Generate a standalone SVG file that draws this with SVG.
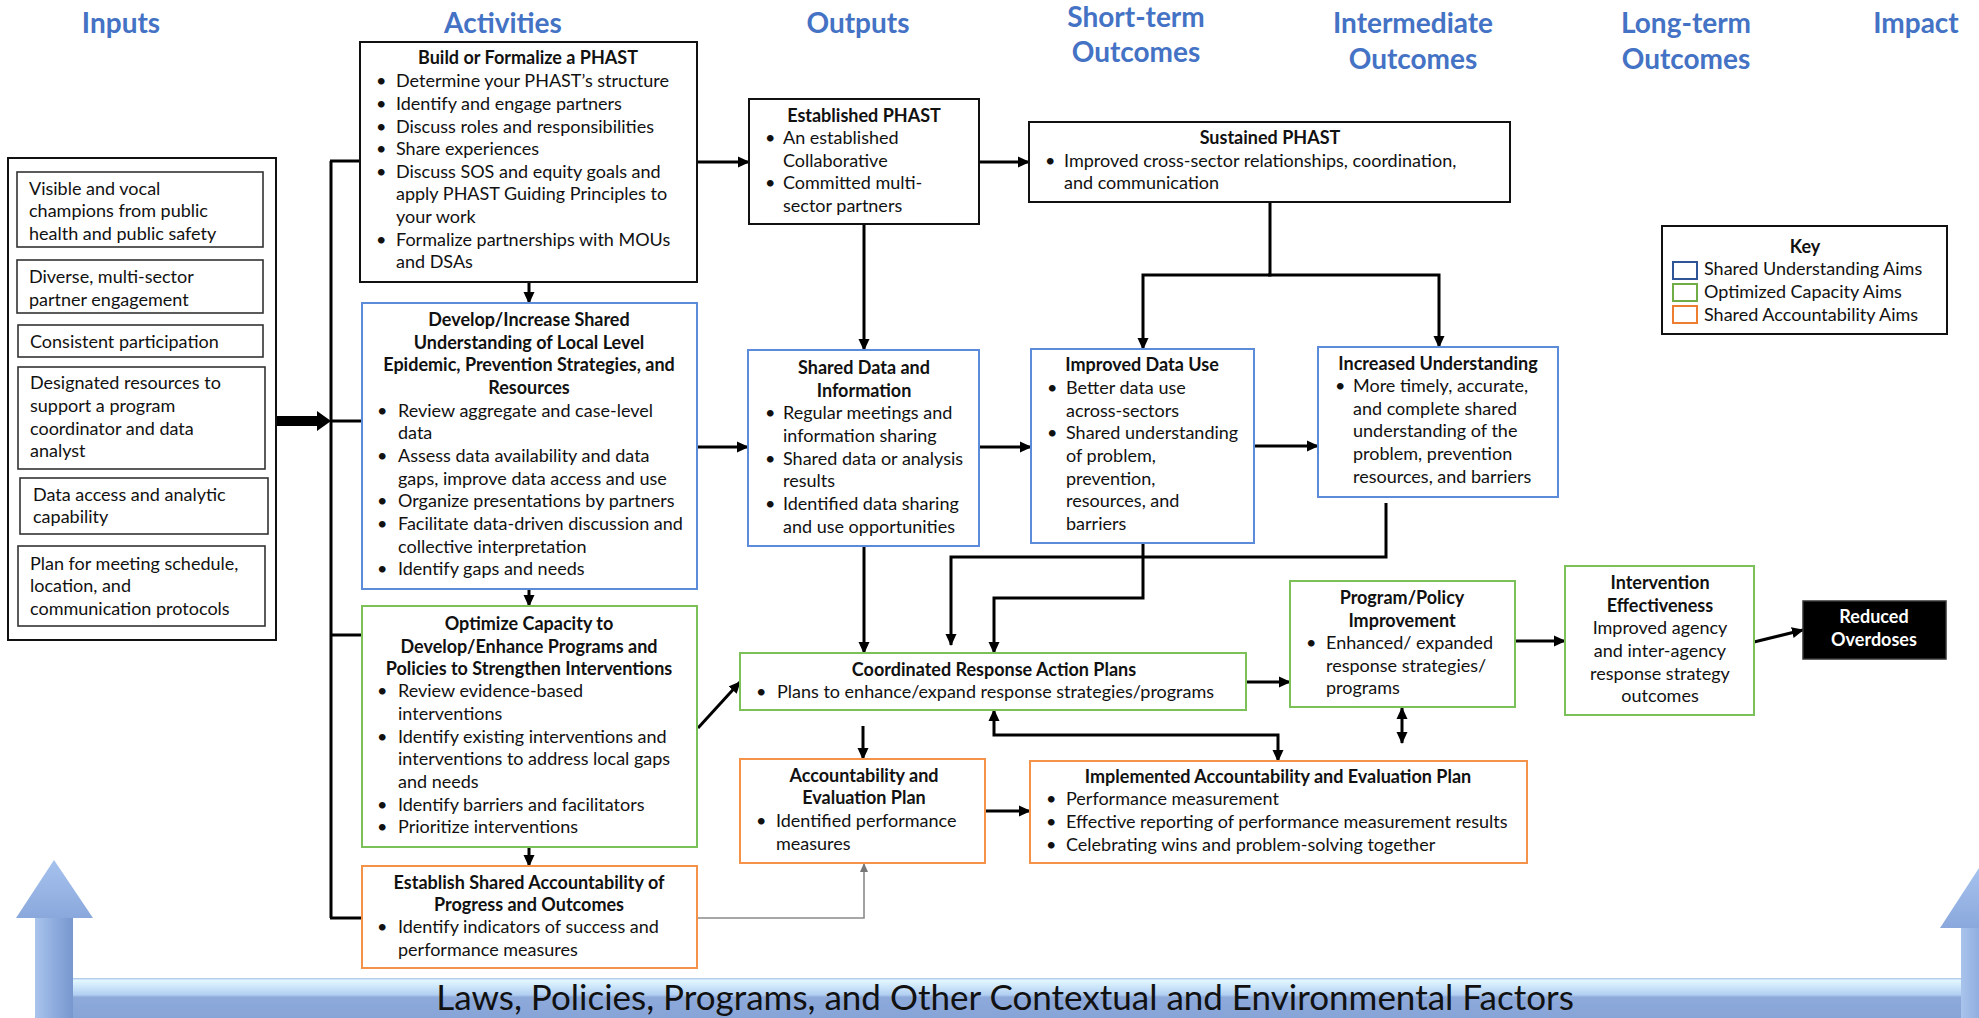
<svg xmlns="http://www.w3.org/2000/svg" width="1979" height="1018" viewBox="0 0 1979 1018">
<style>
.box{fill:#fff;stroke-width:2}
.k{stroke:#111}
.kin{stroke:#333;stroke-width:1.6}
.b{stroke:#5b8bd9}
.g{stroke:#7cc05a}
.o{stroke:#f4924a}
text{font-family:Lato,"Liberation Sans",sans-serif;font-size:18px;fill:#111}
.h{font-weight:bold;text-anchor:middle}
.m{text-anchor:middle}
.ct{font-family:Lato,"Liberation Sans",sans-serif;font-size:28px;font-weight:bold;fill:#4472c4;text-anchor:middle}
.c{stroke:#000;stroke-width:3;fill:none}
.cg{stroke:#8a8a8a;stroke-width:1.6;fill:none}
</style>
<defs>
<marker id="ah" viewBox="0 0 12 12" refX="11" refY="6" markerWidth="12" markerHeight="12" markerUnits="userSpaceOnUse" orient="auto-start-reverse">
<path d="M0,0.5 L12,6 L0,11.5 z" fill="#000"/>
</marker>
<marker id="ahg" viewBox="0 0 10 10" refX="9" refY="5" markerWidth="9" markerHeight="9" markerUnits="userSpaceOnUse" orient="auto">
<path d="M0,0.5 L10,5 L0,9.5 z" fill="#777"/>
</marker>
<linearGradient id="barG" x1="0" y1="0" x2="0" y2="1">
<stop offset="0" stop-color="#a8c2e6"/>
<stop offset="0.06" stop-color="#e2f8ff"/>
<stop offset="0.42" stop-color="#b2cff2"/>
<stop offset="0.48" stop-color="#8eaadb"/>
<stop offset="1" stop-color="#87a4d8"/>
</linearGradient>
<linearGradient id="shG" x1="0" y1="0" x2="1" y2="0">
<stop offset="0" stop-color="#a9c4ec"/>
<stop offset="0.5" stop-color="#8eacde"/>
<stop offset="1" stop-color="#7897cd"/>
</linearGradient>
<linearGradient id="hdG" x1="0" y1="0" x2="0" y2="1">
<stop offset="0" stop-color="#a6c2ee"/>
<stop offset="1" stop-color="#8aa8dc"/>
</linearGradient>
</defs>

<!-- Banner -->
<g id="banner">
<rect x="35" y="978" width="1970" height="40" fill="url(#barG)"/>
<rect x="35" y="916" width="38" height="102" fill="url(#shG)"/>
<polygon points="16,918 54,860 93,918" fill="url(#hdG)"/>
<rect x="1961" y="926" width="38" height="92" fill="url(#shG)"/>
<polygon points="1940,928 1979,868 2018,928" fill="url(#hdG)"/>
<text x="1005" y="1010" class="m" style="font-size:35px;fill:#111">Laws, Policies, Programs, and Other Contextual and Environmental Factors</text>
</g>

<!-- Column titles -->
<g id="titles">
<text class="ct" x="121" y="33">Inputs</text>
<text class="ct" x="503" y="33">Activities</text>
<text class="ct" x="858" y="33">Outputs</text>
<text class="ct" x="1136" y="27">Short-term</text>
<text class="ct" x="1136" y="62">Outcomes</text>
<text class="ct" x="1413" y="33">Intermediate</text>
<text class="ct" x="1413" y="69">Outcomes</text>
<text class="ct" x="1686" y="33">Long-term</text>
<text class="ct" x="1686" y="69">Outcomes</text>
<text class="ct" x="1916" y="33">Impact</text>
</g>

<!-- Connectors -->
<g id="connectors">
<path class="c" d="M331,161 V918"/>
<path class="c" d="M330,161 H360"/>
<path class="c" d="M331,421 H362"/>
<path class="c" d="M331,635 H362"/>
<path class="c" d="M330,918 H362"/>
<polygon points="268,416 317,416 317,411 331,421 317,431 317,426 268,426" fill="#000"/>
<path class="c" d="M697,162 H749" marker-end="url(#ah)"/>
<path class="c" d="M529,282 V303" marker-end="url(#ah)"/>
<path class="c" d="M529,589 V606" marker-end="url(#ah)"/>
<path class="c" d="M529,847 V866" marker-end="url(#ah)"/>
<path class="c" d="M979,162 H1029" marker-end="url(#ah)"/>
<path class="c" d="M864,224 V350" marker-end="url(#ah)"/>
<path class="c" d="M1270,202 V275 H1143 V349" marker-end="url(#ah)"/>
<path class="c" d="M1268,275 H1439 V347" marker-end="url(#ah)"/>
<path class="c" d="M697,447 H748" marker-end="url(#ah)"/>
<path class="c" d="M979,447 H1031" marker-end="url(#ah)"/>
<path class="c" d="M1254,446 H1318" marker-end="url(#ah)"/>
<path class="c" d="M1386,503 V557 H951 V645" marker-end="url(#ah)"/>
<path class="c" d="M1143,543 V598 H994 V653" marker-end="url(#ah)"/>
<path class="c" d="M864,546 V653" marker-end="url(#ah)"/>
<path class="c" d="M698,728 L740,682" marker-end="url(#ah)"/>
<path class="c" d="M1246,682 H1290" marker-end="url(#ah)"/>
<path class="c" d="M863,726 V759" marker-end="url(#ah)"/>
<path class="c" d="M994,710 V735 H1278 V761" marker-start="url(#ah)" marker-end="url(#ah)"/>
<path class="c" d="M1402,708 V743" marker-start="url(#ah)" marker-end="url(#ah)"/>
<path class="c" d="M985,811 H1030" marker-end="url(#ah)"/>
<path class="c" d="M1515,641 H1565" marker-end="url(#ah)"/>
<path class="c" d="M1754,642 L1803,630" marker-end="url(#ah)"/>
<path class="cg" d="M697,918 H864 V864" marker-end="url(#ahg)"/>
</g>

<!-- Inputs -->
<g id="inputs">
<rect class="box k" x="8" y="158" width="268" height="482"/>
<rect class="box kin" x="17" y="172" width="246" height="75"/>
<text><tspan x="29" y="195">Visible and vocal</tspan><tspan x="29" y="217">champions from public</tspan><tspan x="29" y="240">health and public safety</tspan></text>
<rect class="box kin" x="17" y="260" width="246" height="53"/>
<text><tspan x="29" y="283">Diverse, multi-sector</tspan><tspan x="29" y="306">partner engagement</tspan></text>
<rect class="box kin" x="18" y="325" width="245" height="32"/>
<text><tspan x="30" y="348">Consistent participation</tspan></text>
<rect class="box kin" x="18" y="367" width="247" height="102"/>
<text><tspan x="30" y="389">Designated resources to</tspan><tspan x="30" y="412">support a program</tspan><tspan x="30" y="435">coordinator and data</tspan><tspan x="30" y="457">analyst</tspan></text>
<rect class="box kin" x="20" y="478" width="248" height="56"/>
<text><tspan x="33" y="501">Data access and analytic</tspan><tspan x="33" y="523">capability</tspan></text>
<rect class="box kin" x="18" y="546" width="247" height="80"/>
<text><tspan x="30" y="570">Plan for meeting schedule,</tspan><tspan x="30" y="592">location, and</tspan><tspan x="30" y="615">communication protocols</tspan></text>
</g>

<g id="build">
<rect class="box k" x="360" y="42" width="337" height="240"/>
<text class="h" x="528" y="64">Build or Formalize a PHAST</text>
<text><tspan x="376" y="87">•</tspan><tspan x="396" y="87">Determine your PHAST’s structure</tspan>
<tspan x="376" y="110">•</tspan><tspan x="396" y="110">Identify and engage partners</tspan>
<tspan x="376" y="133">•</tspan><tspan x="396" y="133">Discuss roles and responsibilities</tspan>
<tspan x="376" y="155">•</tspan><tspan x="396" y="155">Share experiences</tspan>
<tspan x="376" y="178">•</tspan><tspan x="396" y="178">Discuss SOS and equity goals and</tspan>
<tspan x="396" y="200">apply PHAST Guiding Principles to</tspan>
<tspan x="396" y="223">your work</tspan>
<tspan x="376" y="246">•</tspan><tspan x="396" y="246">Formalize partnerships with MOUs</tspan>
<tspan x="396" y="268">and DSAs</tspan></text>
</g>

<g id="develop">
<rect class="box b" x="362" y="303" width="335" height="286"/>
<text class="h"><tspan x="529" y="326">Develop/Increase Shared</tspan><tspan x="529" y="349">Understanding of Local Level</tspan><tspan x="529" y="371">Epidemic, Prevention Strategies, and</tspan><tspan x="529" y="394">Resources</tspan></text>
<text><tspan x="377" y="417">•</tspan><tspan x="398" y="417">Review aggregate and case-level</tspan>
<tspan x="398" y="439">data</tspan>
<tspan x="377" y="462">•</tspan><tspan x="398" y="462">Assess data availability and data</tspan>
<tspan x="398" y="485">gaps, improve data access and use</tspan>
<tspan x="377" y="507">•</tspan><tspan x="398" y="507">Organize presentations by partners</tspan>
<tspan x="377" y="530">•</tspan><tspan x="398" y="530">Facilitate data-driven discussion and</tspan>
<tspan x="398" y="553">collective interpretation</tspan>
<tspan x="377" y="575">•</tspan><tspan x="398" y="575">Identify gaps and needs</tspan></text>
</g>

<g id="optimize">
<rect class="box g" x="362" y="606" width="335" height="241"/>
<text class="h"><tspan x="529" y="630">Optimize Capacity to</tspan><tspan x="529" y="653">Develop/Enhance Programs and</tspan><tspan x="529" y="675">Policies to Strengthen Interventions</tspan></text>
<text><tspan x="377" y="697">•</tspan><tspan x="398" y="697">Review evidence-based</tspan>
<tspan x="398" y="720">interventions</tspan>
<tspan x="377" y="743">•</tspan><tspan x="398" y="743">Identify existing interventions and</tspan>
<tspan x="398" y="765">interventions to address local gaps</tspan>
<tspan x="398" y="788">and needs</tspan>
<tspan x="377" y="811">•</tspan><tspan x="398" y="811">Identify barriers and facilitators</tspan>
<tspan x="377" y="833">•</tspan><tspan x="398" y="833">Prioritize interventions</tspan></text>
</g>

<g id="establish">
<rect class="box o" x="362" y="866" width="335" height="102"/>
<text class="h"><tspan x="529" y="889">Establish Shared Accountability of</tspan><tspan x="529" y="911">Progress and Outcomes</tspan></text>
<text><tspan x="377" y="933">•</tspan><tspan x="398" y="933">Identify indicators of success and</tspan>
<tspan x="398" y="956">performance measures</tspan></text>
</g>

<g id="established-phast">
<rect class="box k" x="749" y="99" width="230" height="125"/>
<text class="h" x="864" y="122">Established PHAST</text>
<text><tspan x="765" y="144">•</tspan><tspan x="783" y="144">An established</tspan>
<tspan x="783" y="167">Collaborative</tspan>
<tspan x="765" y="189">•</tspan><tspan x="783" y="189">Committed multi-</tspan>
<tspan x="783" y="212">sector partners</tspan></text>
</g>

<g id="sustained-phast">
<rect class="box k" x="1029" y="122" width="481" height="80"/>
<text class="h" x="1270" y="144">Sustained PHAST</text>
<text><tspan x="1045" y="167">•</tspan><tspan x="1064" y="167">Improved cross-sector relationships, coordination,</tspan>
<tspan x="1064" y="189">and communication</tspan></text>
</g>

<g id="shared-data">
<rect class="box b" x="748" y="350" width="231" height="196"/>
<text class="h"><tspan x="864" y="374">Shared Data and</tspan><tspan x="864" y="397">Information</tspan></text>
<text><tspan x="765" y="419">•</tspan><tspan x="783" y="419">Regular meetings and</tspan>
<tspan x="783" y="442">information sharing</tspan>
<tspan x="765" y="465">•</tspan><tspan x="783" y="465">Shared data or analysis</tspan>
<tspan x="783" y="487">results</tspan>
<tspan x="765" y="510">•</tspan><tspan x="783" y="510">Identified data sharing</tspan>
<tspan x="783" y="533">and use opportunities</tspan></text>
</g>

<g id="improved-data-use">
<rect class="box b" x="1031" y="349" width="223" height="194"/>
<text class="h" x="1142" y="371">Improved Data Use</text>
<text><tspan x="1047" y="394">•</tspan><tspan x="1066" y="394">Better data use</tspan>
<tspan x="1066" y="417">across-sectors</tspan>
<tspan x="1047" y="439">•</tspan><tspan x="1066" y="439">Shared understanding</tspan>
<tspan x="1066" y="462">of problem,</tspan>
<tspan x="1066" y="485">prevention,</tspan>
<tspan x="1066" y="507">resources, and</tspan>
<tspan x="1066" y="530">barriers</tspan></text>
</g>

<g id="increased-understanding">
<rect class="box b" x="1318" y="347" width="240" height="150"/>
<text class="h" x="1438" y="370">Increased Understanding</text>
<text><tspan x="1335" y="392">•</tspan><tspan x="1353" y="392">More timely, accurate,</tspan>
<tspan x="1353" y="415">and complete shared</tspan>
<tspan x="1353" y="437">understanding of the</tspan>
<tspan x="1353" y="460">problem, prevention</tspan>
<tspan x="1353" y="483">resources, and barriers</tspan></text>
</g>

<g id="key">
<rect class="box k" x="1662" y="226" width="285" height="108"/>
<text class="h" x="1805" y="253">Key</text>
<rect x="1673" y="262" width="24" height="17" fill="#fff" stroke="#2f5597" stroke-width="2"/>
<rect x="1673" y="284" width="24" height="17" fill="#fff" stroke="#70ad47" stroke-width="2"/>
<rect x="1673" y="306" width="24" height="17" fill="#fff" stroke="#ed7d31" stroke-width="2"/>
<text><tspan x="1704" y="275">Shared Understanding Aims</tspan><tspan x="1704" y="298">Optimized Capacity Aims</tspan><tspan x="1704" y="321">Shared Accountability Aims</tspan></text>
</g>

<g id="coordinated">
<rect class="box g" x="740" y="653" width="506" height="57"/>
<text class="h" x="994" y="676">Coordinated Response Action Plans</text>
<text><tspan x="756" y="698">•</tspan><tspan x="777" y="698">Plans to enhance/expand response strategies/programs</tspan></text>
</g>

<g id="accountability-plan">
<rect class="box o" x="740" y="759" width="245" height="104"/>
<text class="h"><tspan x="864" y="782">Accountability and</tspan><tspan x="864" y="804">Evaluation Plan</tspan></text>
<text><tspan x="756" y="827">•</tspan><tspan x="776" y="827">Identified performance</tspan>
<tspan x="776" y="850">measures</tspan></text>
</g>

<g id="implemented">
<rect class="box o" x="1030" y="761" width="497" height="102"/>
<text class="h" x="1278" y="783">Implemented Accountability and Evaluation Plan</text>
<text><tspan x="1046" y="805">•</tspan><tspan x="1066" y="805">Performance measurement</tspan>
<tspan x="1046" y="828">•</tspan><tspan x="1066" y="828">Effective reporting of performance measurement results</tspan>
<tspan x="1046" y="851">•</tspan><tspan x="1066" y="851">Celebrating wins and problem-solving together</tspan></text>
</g>

<g id="program-policy">
<rect class="box g" x="1290" y="581" width="225" height="126"/>
<text class="h"><tspan x="1402" y="604">Program/Policy</tspan><tspan x="1402" y="627">Improvement</tspan></text>
<text><tspan x="1306" y="649">•</tspan><tspan x="1326" y="649">Enhanced/ expanded</tspan>
<tspan x="1326" y="672">response strategies/</tspan>
<tspan x="1326" y="694">programs</tspan></text>
</g>

<g id="intervention">
<rect class="box g" x="1565" y="566" width="189" height="149"/>
<text class="h"><tspan x="1660" y="589">Intervention</tspan><tspan x="1660" y="612">Effectiveness</tspan></text>
<text class="m"><tspan x="1660" y="634">Improved agency</tspan><tspan x="1660" y="657">and inter-agency</tspan><tspan x="1660" y="680">response strategy</tspan><tspan x="1660" y="702">outcomes</tspan></text>
</g>

<g id="reduced-overdoses">
<rect x="1803" y="601" width="143" height="58" fill="#000" stroke="#333" stroke-width="1.5"/>
<text class="h" style="fill:#fff"><tspan x="1874" y="623">Reduced</tspan><tspan x="1874" y="646">Overdoses</tspan></text>
</g>
</svg>
